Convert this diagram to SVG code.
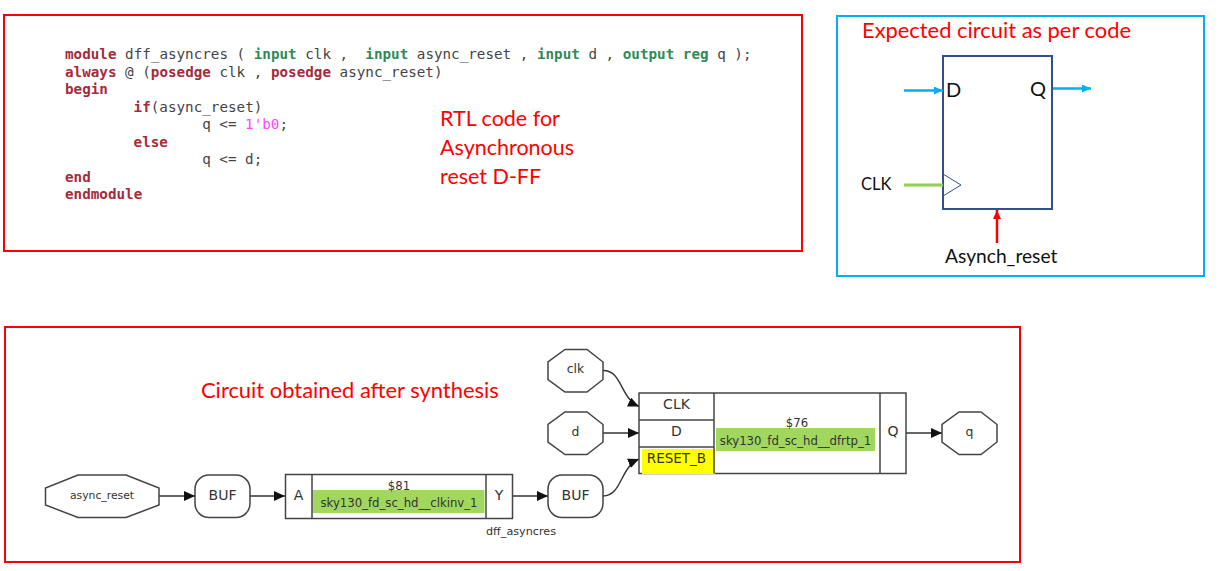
<svg xmlns="http://www.w3.org/2000/svg" width="1218" height="571" viewBox="0 0 1218 571">
<style>
.frame{fill:none;stroke:#ff0000;stroke-width:2}
.note{font-family:Lato,"Liberation Sans",sans-serif;font-size:21.5px;fill:#ff0000}
.wide{font-size:21.9px}
.lab{font-family:Lato,"Liberation Sans",sans-serif;font-size:16.5px;fill:#111}
.code{font-family:"DejaVu Sans Mono",monospace;font-size:14.25px;fill:#444;white-space:pre}
.k{fill:#a52a3a;font-weight:bold}
.t{fill:#2e8b57;font-weight:bold}
.m{fill:#ff44ff}
.n{fill:#fff;stroke:#444;stroke-width:1.5}
.g{font-family:"DejaVu Sans",sans-serif;fill:#333;text-anchor:middle}
.s11{font-size:11.2px}.s12{font-size:12.4px}.s14{font-size:14px}.cell{font-size:11.7px}
.hl{fill:#a2d75f}
.e{fill:none;stroke:#333;stroke-width:1.4}
</style>
<defs>
<marker id="ah" markerUnits="userSpaceOnUse" markerWidth="12" markerHeight="10" refX="11" refY="5" orient="auto"><path d="M0 0L11 5L0 10Z" fill="#111"/></marker>
<marker id="ab" markerUnits="userSpaceOnUse" markerWidth="10" markerHeight="10" refX="9" refY="4" orient="auto"><path d="M0 0L9 4L0 8Z" fill="#00b0f0"/></marker>
<marker id="ar" markerUnits="userSpaceOnUse" markerWidth="10" markerHeight="10" refX="9" refY="4" orient="auto"><path d="M0 0L9 4L0 8Z" fill="#ff0000"/></marker>
</defs>
<rect width="1218" height="571" fill="#fff"/>

<g id="rtl-panel">
<rect class="frame" x="4" y="15" width="798" height="236"/>
<text class="code" xml:space="preserve" x="65" y="59"><tspan class="k">module</tspan> dff_asyncres ( <tspan class="t">input</tspan> clk ,  <tspan class="t">input</tspan> async_reset , <tspan class="t">input</tspan> d , <tspan class="t">output</tspan> <tspan class="t">reg</tspan> q );</text>
<text class="code" xml:space="preserve" x="65" y="76.5"><tspan class="k">always</tspan> @ (<tspan class="k">posedge</tspan> clk , <tspan class="k">posedge</tspan> async_reset)</text>
<text class="code" x="65" y="94"><tspan class="k">begin</tspan></text>
<text class="code" x="133.6" y="111.5"><tspan class="k">if</tspan>(async_reset)</text>
<text class="code" x="202.2" y="129">q &lt;= <tspan class="m">1'b0</tspan>;</text>
<text class="code" x="133.6" y="146.5"><tspan class="k">else</tspan></text>
<text class="code" x="202.2" y="164">q &lt;= d;</text>
<text class="code" x="65" y="181.5"><tspan class="k">end</tspan></text>
<text class="code" x="65" y="199"><tspan class="k">endmodule</tspan></text>
<text class="note" x="440" y="126">RTL code for</text>
<text class="note" x="440" y="155">Asynchronous</text>
<text class="note" x="440" y="184">reset D-FF</text>
</g>

<g id="expected-panel">
<rect x="837" y="16" width="367" height="260" fill="none" stroke="#00b0f0" stroke-width="2"/>
<text class="note wide" x="862" y="38">Expected circuit as per code</text>
</g>
<g id="dff-symbol">
<rect x="943" y="56" width="109" height="153" fill="none" stroke="#2f528f" stroke-width="2"/>
<path d="M943 174L961 185L943 196" fill="none" stroke="#2f528f" stroke-width="1"/>
<text class="lab" x="946" y="97" style="font-size:20px">D</text>
<text class="lab" x="1030" y="96" style="font-size:20px">Q</text>
</g>
<g id="expected-connectors" fill="none" stroke-width="2.5">
<line x1="904" y1="90.5" x2="943" y2="90.5" stroke="#00b0f0" marker-end="url(#ab)"/>
<line x1="1053" y1="88.5" x2="1091" y2="88.5" stroke="#00b0f0" marker-end="url(#ab)"/>
<line x1="904" y1="185" x2="943" y2="185" stroke="#92d050" stroke-width="3"/>
<line x1="997" y1="243" x2="997" y2="210" stroke="#ff0000" marker-end="url(#ar)"/>
</g>
<text class="lab" x="861" y="190">CLK</text>
<text class="lab" x="945" y="263" style="font-size:19.2px">Asynch_reset</text>

<rect id="synth-panel" class="frame" x="5" y="327" width="1015" height="235"/>
<text class="note wide" x="201" y="398">Circuit obtained after synthesis</text>

<g id="connectors">
<path class="e" marker-end="url(#ah)" d="M603 370.500C622 370 620 398 639 406.500"/>
<path class="e" marker-end="url(#ah)" d="M603 433H639"/>
<path class="e" marker-end="url(#ah)" d="M603 496C622 496 620 467 639 459"/>
<path class="e" marker-end="url(#ah)" d="M906 433H942"/>
<path class="e" marker-end="url(#ah)" d="M159 496H195"/>
<path class="e" marker-end="url(#ah)" d="M250 496H285"/>
<path class="e" marker-end="url(#ah)" d="M512 496H548"/>
</g>

<g id="clk">
<polygon class="n" points="565,349.500 587,349.500 603,362 603,379.500 587,392 565,392 548,379.500 548,362"/>
<text class="g s12" x="575.500" y="373">clk</text>
</g>
<g id="d">
<polygon class="n" points="565,412 587,412 603,424.500 603,442 587,454.500 565,454.500 548,442 548,424.500"/>
<text class="g s12" x="575.500" y="436">d</text>
</g>
<g id="q">
<polygon class="n" points="959,412 981,412 997,424.500 997,442 981,454.500 959,454.500 942,442 942,424.500"/>
<text class="g s12" x="969.500" y="436">q</text>
</g>
<g id="async_reset">
<polygon class="n" points="78,475 126,475 159,488 159,505 126,517.500 78,517.500 45.500,505 45.500,488"/>
<text class="g" style="font-size:10.8px" x="102" y="499">async_reset</text>
</g>
<g id="buf1">
<rect class="n" x="195" y="475" width="55" height="42.500" rx="14"/>
<text class="g s14" x="222.500" y="500">BUF</text>
</g>
<g id="buf2">
<rect class="n" x="548" y="475" width="55" height="42.500" rx="14"/>
<text class="g s14" x="575.500" y="500">BUF</text>
</g>
<g id="cell-81">
<rect class="n" x="285.500" y="474.500" width="227" height="44"/>
<rect class="hl" x="312.500" y="490" width="172" height="23"/>
<line class="n" x1="312" y1="474.500" x2="312" y2="518.500"/>
<line class="n" x1="486" y1="474.500" x2="486" y2="518.500"/>
<text class="g s14" x="298.500" y="500">A</text>
<text class="g cell" x="399" y="490">$81</text>
<text class="g cell" x="399" y="507">sky130_fd_sc_hd__clkinv_1</text>
<text class="g s14" x="499" y="500">Y</text>
</g>
<text class="g s11" x="521" y="535">dff_asyncres</text>
<g id="cell-76">
<rect class="n" x="639" y="393" width="267" height="80.500"/>
<rect x="642" y="449" width="73" height="25" fill="#ffff00"/>
<rect class="hl" x="716" y="428" width="159" height="23"/>
<line class="n" x1="639" y1="420" x2="714" y2="420"/>
<line class="n" x1="639" y1="447" x2="714" y2="447"/>
<line class="n" x1="714" y1="393" x2="714" y2="473.500"/>
<line class="n" x1="880" y1="393" x2="880" y2="473.500"/>
<text class="g s14" x="676.500" y="409">CLK</text>
<text class="g s14" x="676.500" y="436">D</text>
<text class="g" style="font-size:13.500px" x="676.500" y="463">RESET_B</text>
<text class="g cell" x="797" y="427">$76</text>
<text class="g cell" x="795.500" y="445">sky130_fd_sc_hd__dfrtp_1</text>
<text class="g s14" x="893" y="436">Q</text>
</g>
</svg>
